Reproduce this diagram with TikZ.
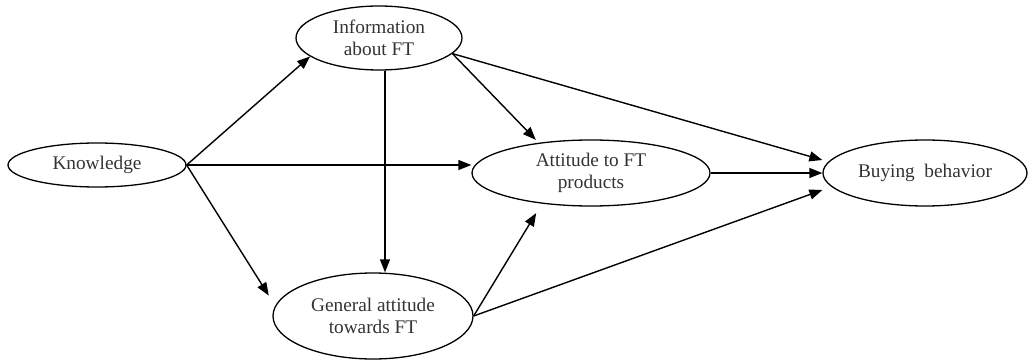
\documentclass[tikz,border=0pt]{standalone}
\usepackage{fontspec}
\setmainfont{Liberation Serif}
\usetikzlibrary{shapes.geometric,arrows.meta,calc}
\begin{document}
\begin{tikzpicture}[x=1pt,y=-1pt,
  oval/.style={ellipse,draw,line width=1.3pt,inner sep=0pt,align=center,
    font=\fontsize{19.3}{22}\selectfont,text=black!80},
  link/.style={line width=1.4pt,-{Triangle[length=13pt,width=10pt]}}]
\useasboundingbox (0,0) rectangle (1036,361);
\node[oval,minimum width=178pt,minimum height=44pt] (k) at (97,165) {Knowledge};
\node[oval,minimum width=166pt,minimum height=64pt] (i) at (379,38) {Information\\about FT};
\node[oval,minimum width=238pt,minimum height=66pt] (a) at (591,173) {Attitude to FT\\products};
\node[oval,minimum width=204pt,minimum height=66pt] (b) at (925,173) {Buying\ \ behavior};
\node[oval,minimum width=200pt,minimum height=86pt] (g) at (373,316) {General attitude\\towards FT};
\draw[link] (k.east) -- (i.195);
\draw[link] (k.east) -- (k.east -| a.west);
\draw[link,shorten >=12pt] (k.east) -- (g.174);
\draw[link] ($(i.south)+(6,0)$) -- ($(g.north)+(12,0)$);
\draw[link,shorten >=4pt] (i.-12) -- (a.150);
\draw[link] (i.-12) -- ($(b.west)+(0,-13)$);
\draw[link] (a.east) -- (b.west);
\draw[link,shorten >=11pt] (g.east) -- (a.212);
\draw[link] (g.east) -- ($(b.west)+(0,17)$);
\end{tikzpicture}
\end{document}
